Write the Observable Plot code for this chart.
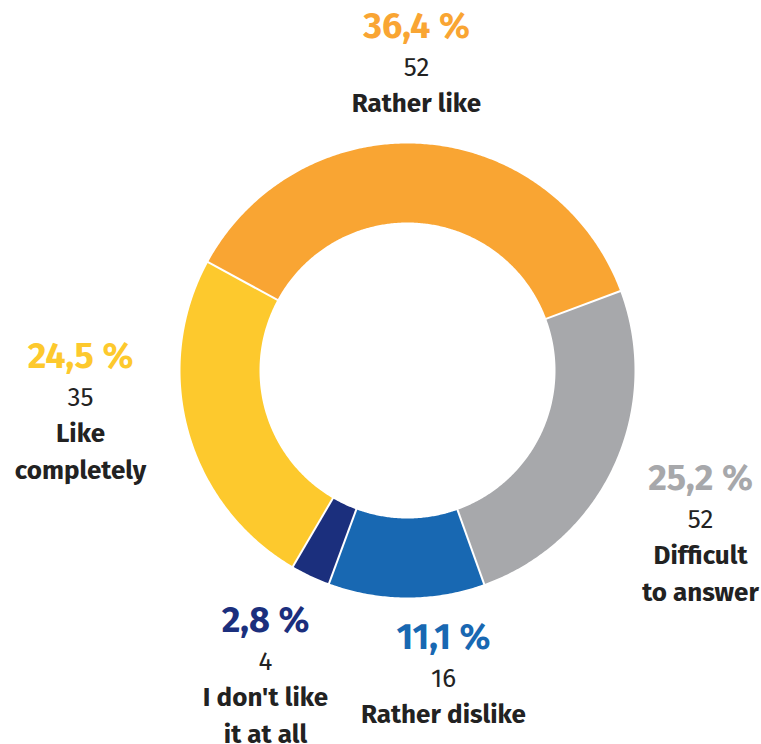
<!DOCTYPE html>
<html>
<head>
<meta charset="utf-8">
<script src="https://cdn.jsdelivr.net/npm/d3@7"></script>
<script src="https://cdn.jsdelivr.net/npm/@observablehq/plot@0.6"></script>
<style>
  html, body { margin: 0; padding: 0; background: #fff; }
  #chart svg { display: block; }
</style>
</head>
<body>
<div id="chart"></div>
<script>
// ---- data ----
const categories = ["Rather like", "Difficult to answer", "Rather dislike", "I don't like it at all", "Like completely"];
const percents = [36.4, 25.2, 11.1, 2.8, 24.5];
const counts = [52, 52, 16, 4, 35];
const percentLabels = ["36,4 %", "25,2 %", "11,1 %", "2,8 %", "24,5 %"];
const nameLines = [["Rather like"], ["Difficult", "to answer"], ["Rather dislike"], ["I don't like", "it at all"], ["Like", "completely"]];
const colors = ["#F9A533", "#A7A8AB", "#1868B2", "#1B2F7D", "#FDC92D"];

// ---- layout ----
const W = 761, H = 744;
const cx = 407, cy = 370;
const rOuter = 227, rInner = 148;
const startDeg = -61.5;
// label anchor (baseline of percent line) relative to centre, y up
const labelAnchor = [[9, 333], [293, -119.5], [36, -278.5], [-142, -261], [-327, 2.5]];
const rowOffsets = [0, -38, -74, -111];

const total = d3.sum(percents);
const rad = d => d * Math.PI / 180;

// build ring polygons
const arcPts = [];
const boundaries = [];
let acc = 0;
categories.forEach((c, i) => {
  const a0 = startDeg + acc / total * 360;
  acc += percents[i];
  const a1 = startDeg + acc / total * 360;
  boundaries.push(a0);
  const n = Math.max(2, Math.ceil((a1 - a0) / 0.5));
  const pts = [];
  for (let k = 0; k <= n; k++) {
    const a = rad(a0 + (a1 - a0) * k / n);
    pts.push({cat: c, x: rOuter * Math.sin(a), y: rOuter * Math.cos(a)});
  }
  for (let k = n; k >= 0; k--) {
    const a = rad(a0 + (a1 - a0) * k / n);
    pts.push({cat: c, x: rInner * Math.sin(a), y: rInner * Math.cos(a)});
  }
  pts.push({...pts[0]});
  arcPts.push(...pts);
});

const sepLinks = boundaries.map(b => ({
  x1: (rInner - 1) * Math.sin(rad(b)), y1: (rInner - 1) * Math.cos(rad(b)),
  x2: (rOuter + 1) * Math.sin(rad(b)), y2: (rOuter + 1) * Math.cos(rad(b))
}));

const textRows = [];
categories.forEach((c, i) => {
  const [ax, ay] = labelAnchor[i];
  textRows.push({kind: "pct", cat: c, text: percentLabels[i], x: ax, y: ay + rowOffsets[0]});
  textRows.push({kind: "cnt", cat: c, text: String(counts[i]), x: ax, y: ay + rowOffsets[1]});
  nameLines[i].forEach((t, j) => textRows.push({kind: "name", cat: c, text: t, x: ax, y: ay + rowOffsets[2 + j]}));
});

const font = "'Fira Sans', 'Open Sans', sans-serif";

const chart = Plot.plot({
  width: W, height: H,
  margin: 0,
  x: {domain: [-cx, W - cx], axis: null},
  y: {domain: [-(H - cy), cy], axis: null},
  color: {domain: categories, range: colors},
  style: {fontFamily: font, background: "#fff"},
  marks: [
    Plot.line(arcPts, {x: "x", y: "y", z: "cat", fill: "cat", stroke: null, curve: "linear"}),
    Plot.link(sepLinks, {x1: "x1", y1: "y1", x2: "x2", y2: "y2", stroke: "#fff", strokeWidth: 2}),
    Plot.text(textRows.filter(d => d.kind === "pct"), {x: "x", y: "y", text: "text", fill: "cat", fontSize: 36, fontWeight: 700, fontFamily: font, lineAnchor: "bottom"}),
    Plot.text(textRows.filter(d => d.kind === "cnt"), {x: "x", y: "y", text: "text", fill: "#222", fontSize: 26, fontWeight: 400, fontFamily: font, lineAnchor: "bottom"}),
    Plot.text(textRows.filter(d => d.kind === "name"), {x: "x", y: "y", text: "text", fill: "#222", fontSize: 26, fontWeight: 700, fontFamily: font, lineAnchor: "bottom"})
  ]
});
document.getElementById("chart").appendChild(chart);
</script>
</body>
</html>
